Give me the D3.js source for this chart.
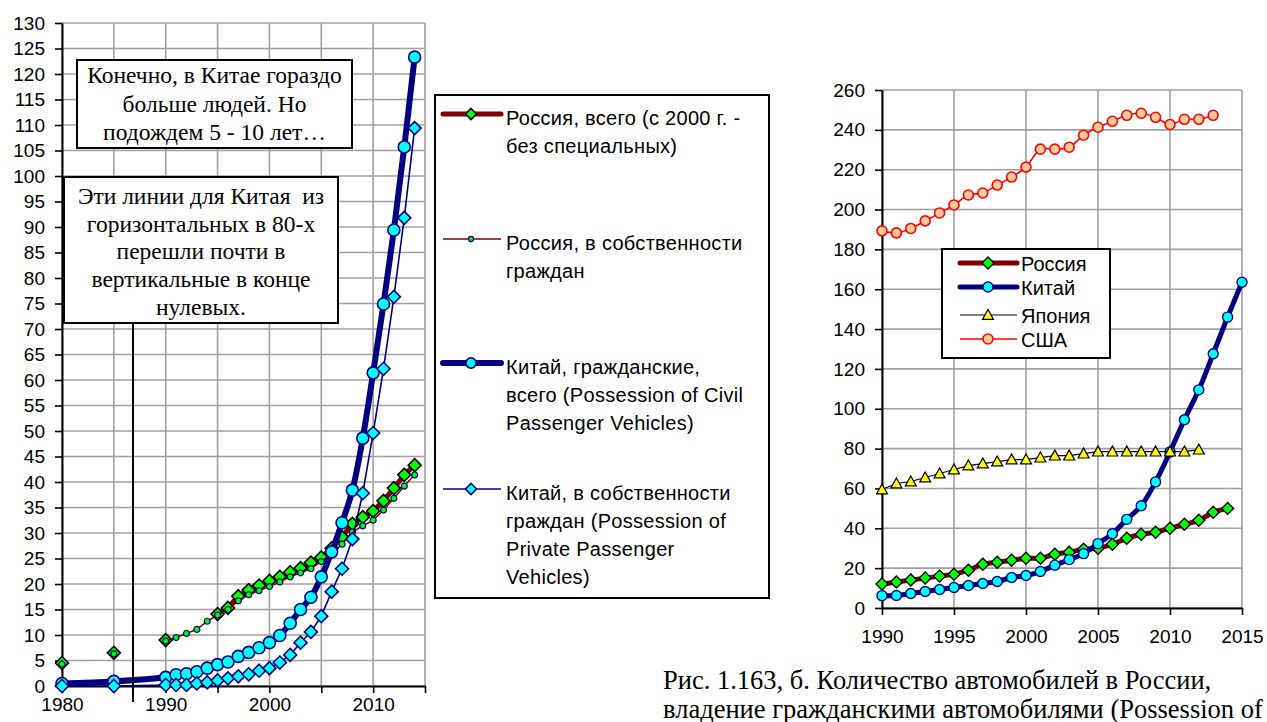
<!DOCTYPE html>
<html>
<head>
<meta charset="utf-8">
<script src="https://cdn.jsdelivr.net/npm/d3@7"></script>
<style>
  body { margin: 0; background: #fff; }
  svg text { font-family: "Liberation Sans", Arial, sans-serif; }
  svg .serif { font-family: "Liberation Serif", "Times New Roman", serif; }
</style>
</head>
<body>
<script>
// ---------- data: left chart ----------
var leftYears = [1980, 1985, 1990, 1991, 1992, 1993, 1994, 1995, 1996, 1997, 1998, 1999, 2000,
                 2001, 2002, 2003, 2004, 2005, 2006, 2007, 2008, 2009, 2010, 2011, 2012, 2013, 2014];
var ruTotal     = [4.5, 6.5, 9.0, null, null, null, null, 14.1, 15.3, 17.6, 18.8, 19.7, 20.6,
                   21.4, 22.3, 23.1, 24.2, 25.2, 27.0, 29.2, 31.8, 33.1, 34.3, 36.3, 38.8, 41.4, 43.3];
var ruPrivate   = [4.3, 6.3, 8.8, 9.5, 10.3, 11.1, 12.7, 13.9, 15.0, 16.7, 17.9, 18.7, 19.5,
                   20.4, 21.4, 22.2, 23.0, 24.4, 26.0, 27.8, 30.2, 31.4, 32.5, 34.5, 36.8, 39.2, 41.4];
var cnCivil     = [0.5, 0.9, 1.7, 2.2, 2.4, 2.8, 3.5, 4.2, 4.7, 5.8, 6.6, 7.5, 8.5,
                   9.9, 12.3, 15.0, 17.4, 21.4, 26.3, 32.0, 38.4, 48.6, 61.4, 74.9, 89.4, 105.7, 123.3];
var cnPrivate   = [0, 0, 0.2, 0.2, 0.2, 0.5, 0.7, 1.1, 1.5, 1.9, 2.3, 3.0, 3.5,
                   4.6, 6.1, 8.5, 10.6, 13.7, 18.5, 23.0, 28.8, 37.8, 49.6, 62.2, 76.3, 91.8, 109.4];

var leftYTicks = d3.range(0, 131, 5);
var leftXTicks = [1980, 1985, 1990, 1995, 2000, 2005, 2010, 2015];

var leftLegend = [
  ["Россия, всего (с 2000 г. -", "без специальных)"],
  ["Россия, в собственности", "граждан"],
  ["Китай, гражданские,", "всего (Possession of Civil", "Passenger Vehicles)"],
  ["Китай, в собственности", "граждан (Possession of", "Private Passenger", "Vehicles)"]
];
var note1 = ["Конечно, в Китае гораздо", "больше людей. Но", "подождем 5 - 10 лет…"];
var note2 = ["Эти линии для Китая  из", "горизонтальных в 80-х", "перешли почти в", "вертикальные в конце", "нулевых."];

// ---------- data: right chart ----------
var rightYears = [1990, 1991, 1992, 1993, 1994, 1995, 1996, 1997, 1998, 1999, 2000, 2001, 2002,
                  2003, 2004, 2005, 2006, 2007, 2008, 2009, 2010, 2011, 2012, 2013, 2014, 2015];
var ruRight = [12, 13, 14, 15, 16, 17, 19, 22, 23, 24, 25, 25, 27, 28, 29.5, 30, 32, 35, 37, 38, 40, 42, 44, 48, 50];
var cnRight = [6.2, 6.3, 7.3, 8.3, 9.3, 10.3, 11.3, 12.3, 13.3, 15.3, 16.3, 18.3, 21.5, 24.3, 27.3,
               32.3, 37.3, 44.5, 51.3, 63.3, 78.3, 94.5, 109.5, 127.6, 146, 163.5];
var jpRight = [59.5, 62.5, 63.5, 65.5, 67.5, 69.5, 71.5, 72.5, 73.5, 74.5, 74.5, 75.5, 76.5, 76.5,
               77.5, 78.5, 78.5, 78.5, 78.5, 78.5, 78.5, 78.5, 79.5];
var usRight = [189.3, 188.3, 190.5, 194.3, 198.3, 202.3, 207.3, 208.3, 212.3, 216.3, 221.3, 230.3,
               230.3, 231.3, 237.3, 241.3, 244.3, 247.3, 248.3, 246.3, 242.7, 245.3, 245.3, 247.3];

var rightYTicks = d3.range(0, 261, 20);
var rightXTicks = [1990, 1995, 2000, 2005, 2010, 2015];
var rightLegend = ["Россия", "Китай", "Япония", "США"];

var caption = ["Рис. 1.163, б. Количество автомобилей в России,",
               "владение гражданскими автомобилями (Possession of"];

// ---------- helpers ----------
var svg = d3.select("body").append("svg")
  .attr("width", 1267)
  .attr("height", 722);

function pairs(years, vals) {
  return vals.map(function(v, i) { return {x: years[i], y: v}; });
}

// split into runs of consecutive years (Excel leaves gaps for missing cells)
function runs(pts) {
  var out = [], cur = [];
  pts.forEach(function(p) {
    if (p.y == null) { if (cur.length) out.push(cur); cur = []; return; }
    if (cur.length && p.x - cur[cur.length - 1].x > 1) { out.push(cur); cur = []; }
    cur.push(p);
  });
  if (cur.length) out.push(cur);
  return out;
}

function marker(g, type, size, fill, stroke, sw) {
  var h = size / 2;
  if (type == "circle") {
    g.append("circle").attr("r", h);
  } else if (type == "diamond") {
    g.append("path").attr("d", "M0," + (-h) + "L" + h + ",0L0," + h + "L" + (-h) + ",0Z");
  } else {
    g.append("path").attr("d", "M0," + (-h) + "L" + h + "," + (h * 0.8) + "L" + (-h) + "," + (h * 0.8) + "Z");
  }
  g.selectAll("*").attr("fill", fill).attr("stroke", stroke).attr("stroke-width", sw);
}

function series(g, x, y, pts, s) {
  var line = d3.line()
    .x(function(d) { return x(d.x); })
    .y(function(d) { return y(d.y); })
    .curve(s.smooth ? d3.curveCatmullRom.alpha(0.5) : d3.curveLinear);
  var segs = s.connect ? [pts] : runs(pts);
  segs.forEach(function(seg) {
    if (seg.length < 2) return;
    g.append("path")
      .attr("d", line(seg))
      .attr("fill", "none")
      .attr("stroke", s.color)
      .attr("stroke-width", s.width)
      .attr("stroke-linejoin", "round");
  });
  pts.filter(function(d) { return d.y != null; }).forEach(function(d) {
    var m = g.append("g").attr("transform", "translate(" + x(d.x) + "," + y(d.y) + ")");
    marker(m, s.marker, s.size, s.fill, s.mstroke, s.msw);
  });
}

function frame(g, x, y, xt, yt, fmt) {
  var x0 = x.range()[0], x1 = x.range()[1], y0 = y.range()[0], y1 = y.range()[1];
  g.selectAll(".gx").data(xt).enter().append("line")
    .attr("x1", function(d) { return x(d); }).attr("x2", function(d) { return x(d); })
    .attr("y1", y0).attr("y2", y1)
    .attr("stroke", "#a0a0a0").attr("stroke-width", 1.6);
  g.selectAll(".gy").data(yt).enter().append("line")
    .attr("x1", x0).attr("x2", x1)
    .attr("y1", function(d) { return y(d); }).attr("y2", function(d) { return y(d); })
    .attr("stroke", "#a0a0a0").attr("stroke-width", 1.6);

  var ya = g.append("g").attr("transform", "translate(" + x0 + ",0)")
    .call(d3.axisLeft(y).tickValues(yt).tickSize(7).tickSizeOuter(0).tickPadding(10));
  var xa = g.append("g").attr("transform", "translate(0," + y0 + ")")
    .call(d3.axisBottom(x).tickValues(xt).tickSize(7).tickSizeOuter(0).tickPadding(fmt.pad).tickFormat(fmt.f));
  [ya, xa].forEach(function(a) {
    a.select(".domain").attr("stroke", "#000").attr("stroke-width", 2);
    a.selectAll(".tick line").attr("stroke", "#000").attr("stroke-width", 1.6);
    a.selectAll("text").attr("fill", "#000").style("font-size", fmt.fs + "px");
  });
}

// ---------- left chart ----------
var xL = d3.scaleLinear().domain([1980, 2015]).range([62, 425]);
var yL = d3.scaleLinear().domain([0, 130]).range([686, 23]);
var gL = svg.append("g");

frame(gL, xL, yL, leftXTicks, leftYTicks, {
  pad: 5, fs: 19,
  f: function(d) { return d % 10 == 0 ? d : ""; }
});

var leftStyles = [
  {color: "#800000", width: 5, marker: "diamond", size: 13, fill: "#00ff00", mstroke: "#000", msw: 1.6},
  {color: "#800000", width: 1.5, marker: "circle", size: 6, fill: "#00ff00", mstroke: "#000080", msw: 1.2},
  {color: "#000080", width: 6, marker: "circle", size: 12, fill: "#00ffff", mstroke: "#000080", msw: 1.6, smooth: true, connect: true},
  {color: "#000080", width: 1.6, marker: "diamond", size: 13, fill: "#00ffff", mstroke: "#000080", msw: 1.6, connect: true}
];
[ruTotal, ruPrivate, cnCivil, cnPrivate].forEach(function(vals, i) {
  series(gL, xL, yL, pairs(leftYears, vals), leftStyles[i]);
});

// callout line and notes
gL.append("line").attr("x1", 133).attr("x2", 133).attr("y1", 323).attr("y2", 702)
  .attr("stroke", "#000").attr("stroke-width", 2);

function note(g, x0, y0, w, h, lines, base, step) {
  g.append("rect").attr("x", x0).attr("y", y0).attr("width", w).attr("height", h)
    .attr("fill", "#fff").attr("stroke", "#000").attr("stroke-width", 2);
  g.selectAll(null).data(lines).enter().append("text")
    .attr("class", "serif")
    .attr("x", x0 + w / 2)
    .attr("y", function(d, i) { return base + i * step; })
    .attr("text-anchor", "middle")
    .style("font-size", "23.5px")
    .attr("xml:space", "preserve")
    .text(function(d) { return d; });
}
note(gL, 77, 60, 275, 88, note1, 83, 28.5);
note(gL, 64, 177, 274, 146, note2, 204, 27.7);

// left legend
var lg = svg.append("g");
lg.append("rect").attr("x", 435).attr("y", 95).attr("width", 334).attr("height", 503)
  .attr("fill", "#fff").attr("stroke", "#000").attr("stroke-width", 2);
var lgY = [114, 239, 363, 489];
leftLegend.forEach(function(lines, i) {
  var s = leftStyles[i];
  lg.append("line").attr("x1", 443).attr("x2", 501).attr("y1", lgY[i]).attr("y2", lgY[i])
    .attr("stroke", s.color).attr("stroke-width", s.width).attr("stroke-linecap", s.width > 3 ? "round" : "butt");
  marker(lg.append("g").attr("transform", "translate(471," + lgY[i] + ")"), s.marker, s.size * 0.85, s.fill, s.mstroke, s.msw);
  lines.forEach(function(t, j) {
    lg.append("text").attr("x", 506).attr("y", lgY[i] + 11 + j * 28)
      .style("font-size", "20px").style("letter-spacing", "0.3px").attr("fill", "#000").text(t);
  });
});

// ---------- right chart ----------
var xR = d3.scaleLinear().domain([1990, 2015]).range([882, 1242]);
var yR = d3.scaleLinear().domain([0, 260]).range([608, 90]);
var gR = svg.append("g");

frame(gR, xR, yR, rightXTicks, rightYTicks, {pad: 15, fs: 19, f: function(d) { return d; }});

var rightStyles = [
  {color: "#800000", width: 5, marker: "diamond", size: 12, fill: "#00ff00", mstroke: "#000", msw: 1.4, smooth: true},
  {color: "#000080", width: 5, marker: "circle", size: 10, fill: "#00ffff", mstroke: "#000080", msw: 1.4, smooth: true},
  {color: "#000", width: 1.2, marker: "triangle", size: 11, fill: "#ffff00", mstroke: "#000", msw: 1.2},
  {color: "#ff0000", width: 1.6, marker: "circle", size: 10, fill: "#ffcc99", mstroke: "#ff0000", msw: 1.6, smooth: true}
];
[ruRight, cnRight, jpRight, usRight].forEach(function(vals, i) {
  series(gR, xR, yR, pairs(rightYears, vals), rightStyles[i]);
});

// right legend
var rg = svg.append("g");
rg.append("rect").attr("x", 942).attr("y", 249).attr("width", 168).attr("height", 109)
  .attr("fill", "#fff").attr("stroke", "#000").attr("stroke-width", 2);
var rgY = [263, 287, 315, 339];
rightLegend.forEach(function(t, i) {
  var s = rightStyles[i];
  rg.append("line").attr("x1", 960).attr("x2", 1017).attr("y1", rgY[i]).attr("y2", rgY[i])
    .attr("stroke", s.color).attr("stroke-width", s.width).attr("stroke-linecap", s.width > 3 ? "round" : "butt");
  marker(rg.append("g").attr("transform", "translate(988," + rgY[i] + ")"), s.marker, s.size, s.fill, s.mstroke, s.msw);
  rg.append("text").attr("x", 1021).attr("y", rgY[i] + 8)
    .style("font-size", "20px").attr("fill", "#000").text(t);
});

// caption
svg.selectAll(".cap").data(caption).enter().append("text")
  .attr("class", "serif")
  .attr("x", 663)
  .attr("y", function(d, i) { return 689 + i * 29; })
  .style("font-size", "26.5px")
  .attr("fill", "#000")
  .text(function(d) { return d; });
</script>
</body>
</html>
